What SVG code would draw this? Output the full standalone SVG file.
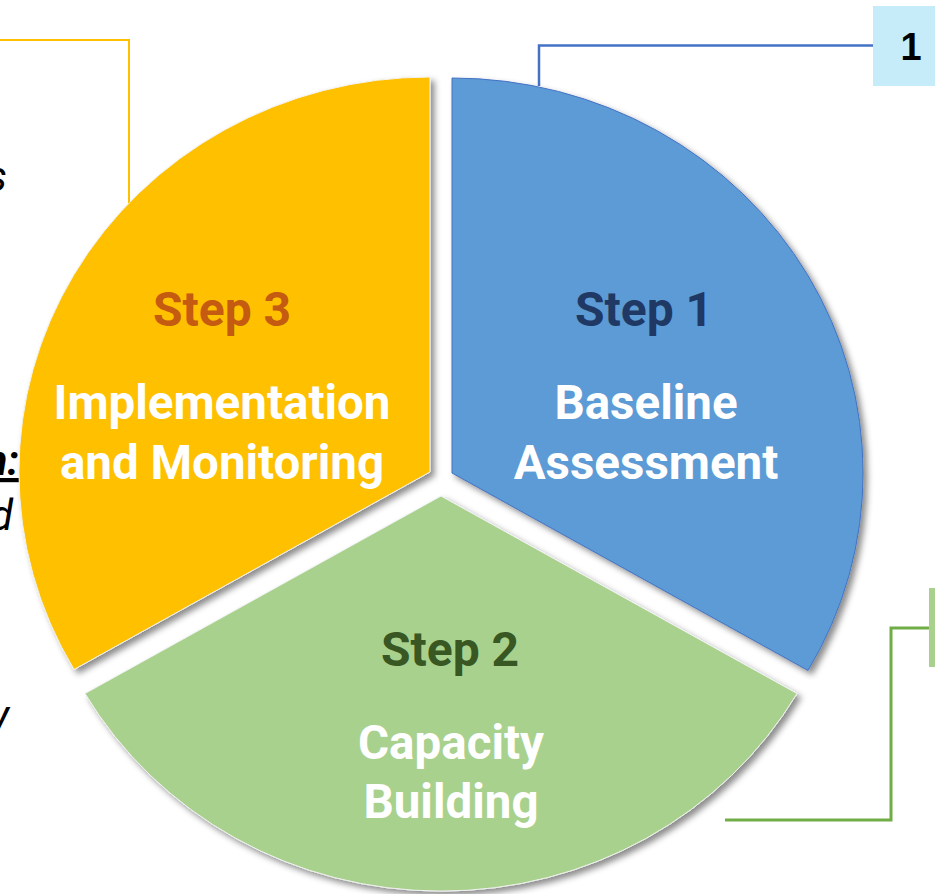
<svg xmlns="http://www.w3.org/2000/svg" width="935" height="894" viewBox="0 0 935 894">
  <defs>
    <filter id="shadow" x="-10%" y="-10%" width="130%" height="130%">
      <feDropShadow dx="4" dy="4" stdDeviation="3" flood-color="#000" flood-opacity="0.45"/>
    </filter>
  </defs>
  <style>
    .lbl { font-family: Roboto, "Liberation Sans", sans-serif; font-weight: 700; text-anchor: middle; }
    .step { font-size: 48px; }
    .title { font-size: 47.5px; fill: #ffffff; }
    .side { font-family: Roboto, "Liberation Sans", sans-serif; font-size: 42px; fill: #000; text-anchor: end; }
    .conn { fill: none; }
  </style>
  <rect width="935" height="894" fill="#ffffff"/>

  <g id="connectors">
    <polyline class="conn" points="0,40 129,40 129,205" stroke="#FFC000" stroke-width="2"/>
    <polyline class="conn" points="873,45.5 539,45.5 539,86" stroke="#4472C4" stroke-width="2.5"/>
    <polyline class="conn" points="930,628 891,628 891,820 725,820" stroke="#70AD47" stroke-width="3"/>
  </g>

  <g id="side-text">
    <text class="side" x="7" y="191" font-style="italic">s</text>
    <text class="side" x="19" y="475" font-weight="700" font-style="italic" text-decoration="underline">n:</text>
    <text class="side" x="13" y="530" font-style="italic">d</text>
    <text class="side" x="9" y="730" font-style="italic">y</text>
  </g>

  <g id="step1">
    <path d="M452,473 L452,78 A411,395 0 0 1 808,670.5 Z" fill="#5B9BD5" stroke="#4472C4" stroke-width="1" filter="url(#shadow)"/>
    <text class="lbl step" x="644" y="326" fill="#1F3864">Step 1</text>
    <text class="lbl title" x="646" y="419">Baseline</text>
    <text class="lbl title" x="646" y="479">Assessment</text>
  </g>

  <g id="step2">
    <path d="M441,496 L797,693.5 A411,395 0 0 1 85,693.5 Z" fill="#A9D18E" stroke="#F2F2F2" stroke-width="1" filter="url(#shadow)"/>
    <text class="lbl step" x="450" y="666" fill="#385723">Step 2</text>
    <text class="lbl title" x="451" y="759">Capacity</text>
    <text class="lbl title" x="451" y="818">Building</text>
  </g>

  <g id="step3">
    <path d="M430,472 L74,669.5 A411,395 0 0 1 430,77 Z" fill="#FFC000" stroke="#F2F2F2" stroke-width="1" filter="url(#shadow)"/>
    <text class="lbl step" x="222" y="326" fill="#C55A11">Step 3</text>
    <text class="lbl title" x="222" y="419">Implementation</text>
    <text class="lbl title" x="222" y="479">and Monitoring</text>
  </g>

  <g id="box1">
    <rect x="873" y="6" width="62" height="80" fill="#C6EBF9"/>
    <text x="911" y="60" font-family="'Liberation Sans', Arial, sans-serif" font-weight="700" font-size="38" text-anchor="middle" fill="#000">1</text>
  </g>

  <g id="box2">
    <rect x="929" y="588" width="6" height="79" fill="#A9D18E"/>
  </g>
</svg>
